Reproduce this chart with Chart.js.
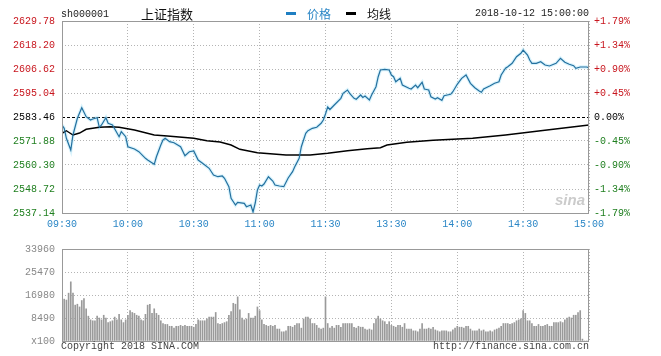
<!DOCTYPE html>
<html><head><meta charset="utf-8">
<script src="https://cdn.jsdelivr.net/npm/chart.js@4/dist/chart.umd.min.js"></script>
<style>
html,body{margin:0;padding:0;background:#fff;width:661px;height:356px;overflow:hidden;position:relative;}
canvas{position:absolute;left:0;}
#c1{top:0;}
#c2{top:236px;}
.t{position:absolute;font-family:"Liberation Mono",monospace;font-size:10px;line-height:12px;white-space:nowrap;color:#222;}
.cjk{font-family:"Noto Sans CJK SC",sans-serif;}
.dash{position:absolute;height:3px;width:10px;}
</style></head><body>
<canvas id="c1" width="661" height="236"></canvas>
<canvas id="c2" width="661" height="120"></canvas>

<div class="t" style="left:61px;top:9px;">sh000001</div>
<div class="t cjk" style="left:141px;top:5px;font-size:13px;line-height:18px;color:#111;">上证指数</div>
<div class="dash" style="left:286px;top:12px;background:#1f7fc2;"></div>
<div class="t cjk" style="left:307px;top:5px;font-size:12px;line-height:17px;color:#2a86c6;">价格</div>
<div class="dash" style="left:346px;top:12px;background:#000;"></div>
<div class="t cjk" style="left:367px;top:5px;font-size:12px;line-height:17px;color:#111;">均线</div>
<div class="t" style="left:475px;top:8px;">2018-10-12 15:00:00</div>
<div class="t" style="left:555px;top:192px;font-family:'Liberation Sans',sans-serif;font-style:italic;font-weight:bold;font-size:15px;line-height:16px;color:rgba(160,160,160,0.55);">sina</div>
<div class="t" style="left:61px;top:341px;color:#444;">Copyright 2018 SINA.COM</div>
<div class="t" style="left:433px;top:341px;color:#444;">http://finance.sina.com.cn</div>

<script>
// ---- data ----
const timeIdx = [0, 30, 60, 90, 120, 150, 180, 210, 240];
const timeLabels = ['09:30', '10:00', '10:30', '11:00', '11:30', '13:30', '14:00', '14:30', '15:00'];
const priceTicks = [2537.14, 2548.72, 2560.30, 2571.88, 2583.46, 2595.04, 2606.62, 2618.20, 2629.78];
const pctLabels = ['-1.79%', '-1.34%', '-0.90%', '-0.45%', '0.00%', '+0.45%', '+0.90%', '+1.34%', '+1.79%'];
const prevClose = 2583.46;
const volTicks = [0, 8490, 16980, 25470, 33960];
const volLabels = ['x100', '8490', '16980', '25470', '33960'];

const priceMin = [0,1,2,4,5,7,9,11,13,14,16,17,18,20,21,23,26,27,29,30,33,35,38,39,42,43,45,46,47,49,51,54,56,58,60,62,64,67,69,71,73,74,76,77,79,80,83,84,86,87,88,89,90,91,92,94,96,97,99,101,103,105,106,108,109,111,112,114,116,118,119,120,121,122,124,127,128,130,131,133,134,136,137,138,140,141,143,144,145,147,149,150,151,152,154,155,158,159,161,162,164,165,167,168,170,171,173,174,177,178,180,182,184,186,188,190,191,192,195,197,199,200,202,203,205,207,209,210,212,213,214,216,218,220,222,225,227,229,231,233,234,236,239,240];
const priceVal = [2579.60,2578.01,2573.18,2567.54,2574.78,2582.83,2587.95,2583.60,2582.01,2582.49,2583.12,2578.49,2579.60,2583.12,2580.42,2579.60,2573.95,2576.37,2573.95,2569.13,2568.02,2566.72,2563.53,2562.71,2560.64,2564.30,2569.95,2572.36,2573.18,2571.54,2571.06,2569.13,2564.79,2566.72,2567.05,2562.71,2561.12,2558.71,2555.47,2554.65,2554.99,2553.88,2549.83,2544.23,2541.00,2542.30,2541.82,2540.18,2541.00,2537.62,2541.96,2548.24,2550.65,2550.17,2551.10,2554.65,2552.58,2550.65,2550.17,2549.83,2554.03,2557.07,2559.48,2563.53,2569.13,2575.60,2576.85,2578.01,2578.49,2580.42,2582.01,2584.91,2588.28,2587.08,2589.25,2592.48,2594.90,2596.49,2594.90,2592.48,2592.00,2594.08,2592.87,2593.59,2591.66,2594.08,2598.08,2602.90,2606.14,2606.48,2606.14,2603.72,2602.90,2600.49,2602.13,2598.90,2597.31,2596.97,2598.90,2597.60,2600.20,2596.97,2596.49,2593.25,2592.14,2592.77,2591.52,2593.74,2594.41,2595.67,2599.24,2602.13,2603.72,2599.72,2597.60,2596.00,2595.38,2596.97,2598.56,2599.72,2600.49,2603.72,2606.96,2607.73,2609.37,2612.55,2614.20,2615.79,2613.37,2610.96,2609.37,2609.37,2610.14,2608.55,2608.07,2609.37,2611.78,2609.85,2608.89,2608.20,2606.96,2607.58,2607.58,2607.10];

const avgMin = [0,2,5,8,11,17,22,26,33,42,48,60,66,72,77,81,89,102,113,121,130,139,145,148,157,169,187,202,218,240];
const avgVal = [2575.60,2576.85,2574.78,2575.74,2577.53,2578.49,2578.78,2578.49,2577.19,2574.78,2574.29,2573.18,2572.02,2571.40,2569.95,2567.88,2566.23,2565.12,2565.12,2565.95,2567.20,2568.16,2568.65,2569.95,2571.25,2572.22,2573.18,2574.78,2576.85,2579.60];

const volVal = [
18100,15450,15110,17660,21840,17660,13240,13580,12570,14940,
15620,11890,9170,7810,7470,7470,9170,8490,7810,9510,
8490,6790,7130,7470,8830,7810,9850,7810,6790,7810,
9510,11210,10530,10190,9510,9170,7810,7470,9850,13240,
13580,10190,11890,10190,9510,7470,6450,6110,6110,5430,
5430,4750,5430,5430,5770,5430,5770,5430,5430,5430,
5090,6110,7810,7470,7470,7470,8150,8830,8830,8830,
10530,6450,6110,6450,6790,7130,9510,10870,13920,13580,
16300,11550,8490,7810,8150,10190,8490,8490,9170,12570,
11210,7810,6110,5770,5430,5770,5430,5770,4410,4410,
3400,3400,3740,5430,5430,5090,5770,6450,6450,4750,
8150,8830,8830,8150,6450,6450,5770,4750,4410,4750,
16300,6450,4750,5430,4750,5770,5770,5090,6450,6450,
6450,6450,6450,5090,4750,5430,5090,5090,4410,4080,
4410,4080,6450,8150,9170,8150,7470,7130,6110,7130,
5770,5430,5090,5770,5770,5090,6450,4410,4410,4410,
3740,3740,3400,4410,6450,4410,4410,4750,4410,5090,
4080,3740,3400,3740,3740,3740,3400,3400,4080,4750,
5430,5090,5090,4750,5430,5430,4410,3740,3740,3740,
4410,3740,4080,3400,3400,3740,3400,4080,4410,4750,
5430,6450,6450,6450,6110,6450,6790,7470,7810,8150,
11210,10190,7470,7470,6450,5430,5430,6110,5430,5430,
5770,6110,5430,5430,6790,6790,6790,7130,6790,7810,
8490,8830,8490,9510,9510,10530,11210,700,0,0,
0];

// ---- styles ----
const MONO = {family: '"Liberation Mono", monospace', size: 10};
const RED = '#c8161e', GREEN = '#1f7f1f', BLUE = '#2a86c6', GRIDC = '#b4b4b4';

const boxPlugin = {
  id: 'box',
  beforeDatasetsDraw(chart, args, opts) {
    const a = chart.chartArea, ctx = chart.ctx;
    if (opts.zeroScale) {
      const y = Math.round(chart.scales[opts.zeroScale].getPixelForValue(opts.zeroValue)) + 0.5;
      ctx.save();
      ctx.strokeStyle = '#000'; ctx.lineWidth = 1; ctx.setLineDash([3, 2]);
      ctx.beginPath(); ctx.moveTo(a.left, y); ctx.lineTo(a.right, y); ctx.stroke();
      ctx.restore();
    }
  },
  afterDraw(chart) {
    const a = chart.chartArea, ctx = chart.ctx;
    ctx.save();
    ctx.strokeStyle = '#999'; ctx.lineWidth = 1; ctx.setLineDash([]);
    ctx.strokeRect(Math.round(a.left) + 0.5, Math.round(a.top) + 0.5, Math.round(a.right - a.left) - 1, Math.round(a.bottom - a.top));
    ctx.restore();
  }
};

function xScale(showTicks) {
  return {
    type: 'linear', min: 0, max: 240, offset: false,
    afterBuildTicks: s => { s.ticks = timeIdx.map(v => ({value: v})); },
    afterFit: s => { s.height = showTicks ? 23 : 15; },
    ticks: {display: showTicks, autoSkip: false, maxRotation: 0, padding: 5, font: MONO, color: BLUE,
      callback: (v, i) => timeLabels[i]},
    grid: {color: GRIDC, drawTicks: false, lineWidth: 1, offset: false},
    border: {display: false, dash: [1, 2]}
  };
}

const toPts = (xs, ys) => xs.map((x, i) => ({x: x, y: ys[i]}));

new Chart(document.getElementById('c1'), {
  type: 'line',
  data: {
    datasets: [
      {data: toPts(priceMin, priceVal), borderColor: '#24709f', borderWidth: 1.2, pointRadius: 0, tension: 0, yAxisID: 'y'},
      {data: toPts(avgMin, avgVal), borderColor: '#000', borderWidth: 1.4, pointRadius: 0, tension: 0, yAxisID: 'y'},
      {data: toPts(priceMin, priceVal), borderColor: 'rgba(170,228,248,0.45)', borderWidth: 3.5, pointRadius: 0, tension: 0, yAxisID: 'y'}
    ]
  },
  options: {
    responsive: false, animation: false, devicePixelRatio: 1,
    layout: {padding: {top: 21, left: 0, right: 0, bottom: 0}},
    plugins: {legend: {display: false}, tooltip: {enabled: false}, box: {zeroScale: 'y', zeroValue: prevClose}},
    scales: {
      x: xScale(true),
      y: {
        type: 'linear', position: 'left', min: priceTicks[0], max: priceTicks[priceTicks.length - 1],
        afterBuildTicks: s => { s.ticks = priceTicks.map(v => ({value: v})); },
        afterFit: s => { s.width = 62; },
        ticks: {padding: 7, font: MONO, autoSkip: false,
          color: c => c.index > 4 ? RED : (c.index === 4 ? '#000' : GREEN),
          callback: v => v.toFixed(2)},
        grid: {color: c => c.index === 4 ? 'rgba(0,0,0,0)' : GRIDC, drawTicks: false},
        border: {display: false, dash: [1, 2]}
      },
      yr: {
        type: 'linear', position: 'right', min: priceTicks[0], max: priceTicks[priceTicks.length - 1],
        afterBuildTicks: s => { s.ticks = priceTicks.map(v => ({value: v})); },
        afterFit: s => { s.width = 72; },
        ticks: {padding: 5, font: MONO, autoSkip: false,
          color: c => c.index > 4 ? RED : (c.index === 4 ? '#000' : GREEN),
          callback: (v, i) => pctLabels[i]},
        grid: {display: false, drawTicks: false},
        border: {display: false}
      }
    }
  },
  plugins: [boxPlugin]
});

new Chart(document.getElementById('c2'), {
  type: 'bar',
  data: {
    datasets: [{data: volVal.map((v, i) => ({x: i, y: v})), backgroundColor: '#9a9a9a', barThickness: 1, grouped: false}]
  },
  options: {
    responsive: false, animation: false, devicePixelRatio: 1,
    layout: {padding: {top: 5, left: 0, right: 72, bottom: 0}},
    plugins: {legend: {display: false}, tooltip: {enabled: false}},
    scales: {
      x: xScale(false),
      y: {
        type: 'linear', position: 'left', min: 0, max: volTicks[volTicks.length - 1],
        afterBuildTicks: s => { s.ticks = volTicks.map(v => ({value: v})); },
        afterFit: s => { s.width = 62; },
        ticks: {padding: 7, font: MONO, color: '#888', autoSkip: false, callback: (v, i) => volLabels[i]},
        grid: {color: GRIDC, drawTicks: false},
        border: {display: false, dash: [1, 2]}
      }
    }
  },
  plugins: [boxPlugin]
});
</script>
</body></html>
